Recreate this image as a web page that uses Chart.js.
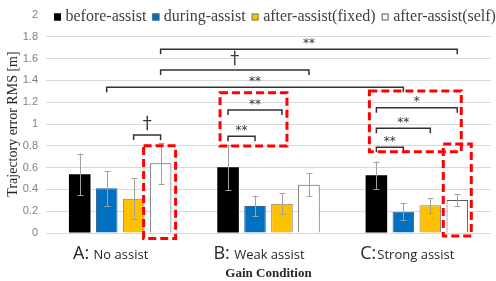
<!DOCTYPE html>
<html>
<head>
<meta charset="utf-8">
<script src="https://cdn.jsdelivr.net/npm/chart.js@4.4.0/dist/chart.umd.min.js"></script>
<style>
  html, body { margin: 0; padding: 0; background: #fff; }
  #wrap { width: 496px; height: 281px; }
</style>
</head>
<body>
<div id="wrap"><canvas id="rmsChart"></canvas></div>
<script>
// gain conditions and phases
const conditions = ['A: No assist', 'B: Weak assist', 'C:Strong assist'];
const phases = ['before-assist', 'during-assist', 'after-assist(fixed)', 'after-assist(self)'];

// mean trajectory error RMS [m]
const beforeMean = [0.538, 0.603, 0.529];
const duringMean = [0.41, 0.248, 0.196];
const fixedMean = [0.315, 0.269, 0.254];
const selfMean = [0.64, 0.443, 0.303];

// standard deviations
const beforeSd = [0.19, 0.206, 0.126];
const duringSd = [0.16, 0.096, 0.081];
const fixedSd = [0.19, 0.095, 0.067];
const selfSd = [0.187, 0.105, 0.054];

// significance brackets: [group, bar, group, bar, level, mark]
const brackets = [
  [0, 3, 2, 3, 1.685, '**'],
  [0, 3, 1, 3, 1.495, '†'],
  [0, 1, 2, 1, 1.337, '**'],
  [0, 2, 0, 3, 0.9, '†'],
  [1, 0, 1, 2, 1.128, '**'],
  [1, 0, 1, 1, 0.887, '**'],
  [2, 0, 2, 3, 1.15, '*'],
  [2, 0, 2, 2, 0.96, '**'],
  [2, 0, 2, 1, 0.786, '**']
];

const means = [beforeMean, duringMean, fixedMean, selfMean];
const sds = [beforeSd, duringSd, fixedSd, selfSd];
const fills = ['#000000', '#0070c0', '#ffc000', '#ffffff'];
const edges = ['#000000', '#2f5f8a', '#7f7f7f', '#595959'];

// red dashed highlight boxes: group, first bar, last bar, px offsets from bar centres, top/bottom value
const highlights = [
  [0, 3, 3, -17, 15, 0.8, -0.05],
  [1, 0, 2, -8, 5, 1.287, 0.798],
  [2, 0, 3, -7, 4, 1.303, 0.746],
  [2, 3, 3, -14, 14, 0.816, -0.028]
];

function barX(chart, group, bar) {
  return chart.getDatasetMeta(bar).data[group].x;
}

function fillMid(ctx, text, x, yMid) {
  const m = ctx.measureText(text);
  ctx.textAlign = 'center';
  ctx.textBaseline = 'alphabetic';
  ctx.fillText(text, x, yMid + (m.actualBoundingBoxAscent - m.actualBoundingBoxDescent) / 2);
}

const errorBars = {
  id: 'errorBars',
  afterDatasetsDraw(chart) {
    const ctx = chart.ctx;
    const y = chart.scales.y;
    ctx.save();
    ctx.strokeStyle = '#a0a0a0';
    ctx.lineWidth = 1;
    chart.data.datasets.forEach((ds, i) => {
      chart.getDatasetMeta(i).data.forEach((el, j) => {
        const top = y.getPixelForValue(ds.data[j] + sds[i][j]);
        const bot = y.getPixelForValue(ds.data[j] - sds[i][j]);
        const x = Math.round(el.x) + 0.5;
        ctx.beginPath();
        ctx.moveTo(x, top); ctx.lineTo(x, bot);
        ctx.moveTo(x - 3, Math.round(top) + 0.5); ctx.lineTo(x + 3, Math.round(top) + 0.5);
        ctx.moveTo(x - 3, Math.round(bot) + 0.5); ctx.lineTo(x + 3, Math.round(bot) + 0.5);
        ctx.stroke();
      });
    });
    ctx.restore();
  }
};

const extras = {
  id: 'extras',
  afterDraw(chart) {
    const ctx = chart.ctx;
    const y = chart.scales.y;
    const xs = chart.scales.x;
    ctx.save();

    // brackets
    ctx.strokeStyle = '#333333';
    ctx.fillStyle = '#333333';
    ctx.lineWidth = 1.5;
    brackets.forEach(([g1, b1, g2, b2, level, mark]) => {
      const x1 = barX(chart, g1, b1);
      const x2 = barX(chart, g2, b2);
      const ly = y.getPixelForValue(level);
      ctx.beginPath();
      ctx.moveTo(x1, ly + 5); ctx.lineTo(x1, ly); ctx.lineTo(x2, ly); ctx.lineTo(x2, ly + 5);
      ctx.stroke();
      if (mark === '†') {
        ctx.font = '17px "Noto Sans CJK JP"';
        const m = ctx.measureText(mark);
        ctx.textAlign = 'center';
        ctx.textBaseline = 'alphabetic';
        ctx.fillText(mark, (x1 + x2) / 2, ly - 4 - m.actualBoundingBoxDescent);
      } else {
        ctx.font = '12px "DejaVu Sans"';
        fillMid(ctx, mark, (x1 + x2) / 2, ly - 8.5);
      }
    });

    // highlight boxes
    ctx.strokeStyle = '#ff0000';
    ctx.lineWidth = 3;
    ctx.setLineDash([8, 4]);
    highlights.forEach(([g, bFrom, bTo, dl, dr, top, bottom]) => {
      const left = barX(chart, g, bFrom) + dl;
      const right = barX(chart, g, bTo) + dr;
      const t = y.getPixelForValue(top);
      const b = y.getPixelForValue(bottom);
      ctx.strokeRect(left, t, right - left, b - t);
    });
    ctx.setLineDash([]);

    // category labels, letter drawn larger
    ctx.fillStyle = '#262626';
    ctx.textAlign = 'left';
    ctx.textBaseline = 'alphabetic';
    conditions.forEach((label, i) => {
      const k = label.indexOf(':') + 1;
      const head = label.slice(0, k);
      const tail = label.slice(k);
      ctx.font = '18px "Open Sans"';
      const wh = ctx.measureText(head).width;
      ctx.font = '13px "Open Sans"';
      const wt = ctx.measureText(tail).width;
      const start = xs.getPixelForValue(i) - (wh + wt) / 2 - 10;
      ctx.font = '18px "Open Sans"';
      ctx.fillText(head, start, 258.5);
      ctx.font = '13px "Open Sans"';
      ctx.fillText(tail, start + wh + 1, 258.5);
    });

    // legend
    ctx.font = '16px "Liberation Serif"';
    ctx.textBaseline = 'middle';
    let lx = 54;
    const cy = 17;
    chart.data.datasets.forEach((ds, i) => {
      ctx.fillStyle = fills[i];
      ctx.fillRect(lx, cy - 3.5, 7, 7);
      ctx.strokeStyle = edges[i];
      ctx.lineWidth = 1;
      ctx.strokeRect(lx + 0.5, cy - 3, 6, 6);
      ctx.fillStyle = '#404040';
      ctx.fillText(ds.label, lx + 11.5, cy);
      lx += 11.5 + ctx.measureText(ds.label).width + 6;
    });
    ctx.restore();
  }
};

new Chart(document.getElementById('rmsChart'), {
  type: 'bar',
  data: {
    labels: conditions,
    datasets: phases.map((name, i) => ({
      label: name,
      data: means[i],
      backgroundColor: fills[i],
      borderColor: edges[i],
      borderWidth: i === 0 ? 0 : 1,
      categoryPercentage: 0.727,
      barPercentage: 0.8
    }))
  },
  options: {
    responsive: true,
    maintainAspectRatio: false,
    animation: false,
    layout: { padding: { top: 15, right: 5, left: 0, bottom: 0 } },
    plugins: { legend: { display: false }, tooltip: { enabled: false } },
    scales: {
      x: {
        grid: { display: false },
        border: { display: false },
        ticks: { display: false },
        title: {
          display: true,
          text: 'Gain Condition',
          color: '#262626',
          font: { family: 'Liberation Serif', size: 13, weight: 'bold' },
          padding: 0
        },
        afterFit(scale) { scale.height = 48; }
      },
      y: {
        min: 0,
        max: 2,
        ticks: {
          stepSize: 0.2,
          padding: 8,
          color: '#7f7f7f',
          font: { family: "'Liberation Sans Narrow', 'Liberation Sans'", size: 11 },
          callback: v => String(Math.round(v * 10) / 10)
        },
        grid: {
          drawTicks: false,
          color: ctx => (ctx.tick && ctx.tick.value === 2 ? 'rgba(0,0,0,0)' : '#d9d9d9')
        },
        border: { display: false },
        title: {
          display: true,
          text: 'Trajectory error RMS [m]',
          color: '#262626',
          font: { family: 'Liberation Serif', size: 14 },
          padding: { top: 5, bottom: 0 }
        },
        afterFit(scale) { scale.width = 46; }
      }
    }
  },
  plugins: [errorBars, extras]
});
</script>
</body>
</html>
